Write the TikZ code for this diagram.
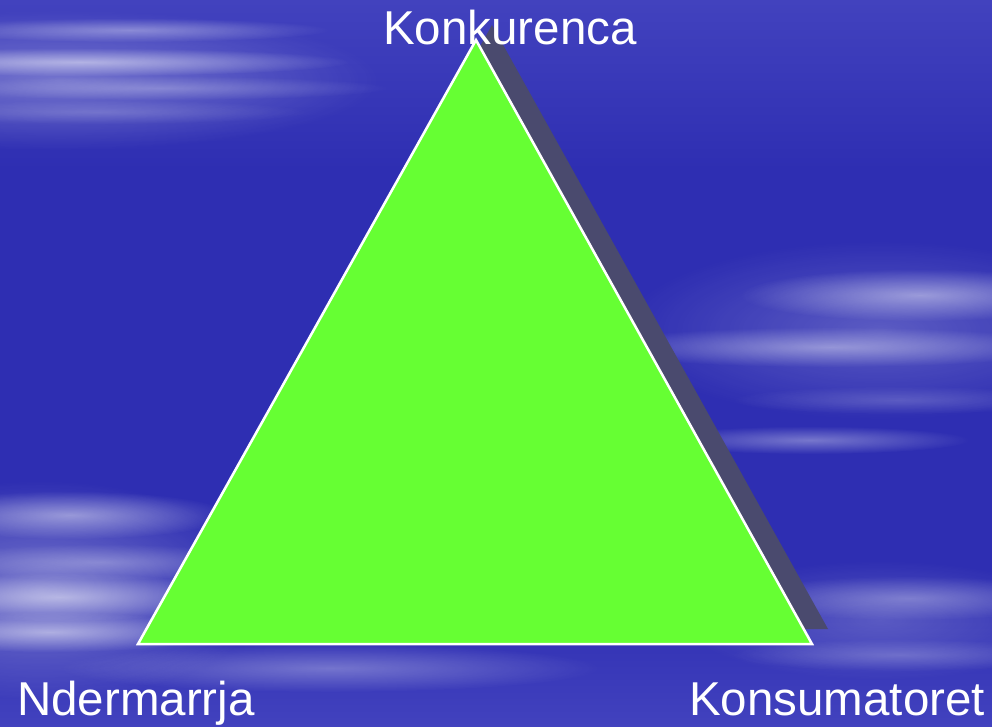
\documentclass[tikz,border=0pt]{standalone}
\usepackage{fontspec}
\setmainfont{Liberation Sans}
\usetikzlibrary{fadings}
\definecolor{bgblue}{RGB}{46,46,178}
\definecolor{bgtop}{RGB}{66,66,190}
\definecolor{trigreen}{RGB}{102,255,51}
\definecolor{shadowgray}{RGB}{74,74,110}
\tikzfading[name=fuzzyell, inner color=transparent!0, outer color=transparent!100]
\tikzset{
  streak/.style={fill=white, fill opacity=#1, path fading=fuzzyell},
  label/.style={text=white, font=\fontsize{47.5}{57}\selectfont, inner sep=0pt, anchor=base west},
}
\begin{document}
\begin{tikzpicture}[x=1pt,y=-1pt]
\useasboundingbox (0,0) rectangle (992,727);
\fill[bgblue] (0,0) rectangle (992,727);
\shade[top color=bgtop, bottom color=bgblue] (0,0) rectangle (992,170);
\shade[top color=bgblue, bottom color=bgtop] (0,600) rectangle (992,727);
% broad diffuse light areas
\fill[streak=0.30] (60,80) ellipse (320 and 70);
\fill[streak=0.35] (40,590) ellipse (230 and 110);
\fill[streak=0.22] (880,330) ellipse (260 and 90);
\fill[streak=0.20] (880,620) ellipse (200 and 60);
% cloud streaks
\fill[streak=0.35] (130,30) ellipse (200 and 12);
\fill[streak=0.50] (80,62) ellipse (270 and 14);
\fill[streak=0.25] (160,88) ellipse (230 and 12);
\fill[streak=0.18] (100,112) ellipse (210 and 12);
\fill[streak=0.45] (920,295) ellipse (180 and 26);
\fill[streak=0.40] (830,347) ellipse (240 and 20);
\fill[streak=0.18] (900,400) ellipse (170 and 14);
\fill[streak=0.35] (810,440) ellipse (160 and 14);
\fill[streak=0.45] (70,515) ellipse (160 and 24);
\fill[streak=0.28] (100,562) ellipse (170 and 18);
\fill[streak=0.50] (60,597) ellipse (170 and 24);
\fill[streak=0.50] (50,632) ellipse (170 and 20);
\fill[streak=0.30] (330,668) ellipse (270 and 24);
\fill[streak=0.30] (910,598) ellipse (170 and 22);
\fill[streak=0.22] (900,655) ellipse (170 and 16);
% triangle with shadow
\fill[shadowgray] (492,25) -- (154,629) -- (828,629) -- cycle;
\filldraw[fill=trigreen, draw=white, line width=2.5pt, line join=miter] (476,40) -- (138,644) -- (812,644) -- cycle;
% labels
\node[label] (konk) at (383,45) {Konkurenca};
\node[label] (nderm) at (17,715) {Ndermarrja};
\node[label] (kons) at (689,715) {Konsumatoret};
\end{tikzpicture}
\end{document}
